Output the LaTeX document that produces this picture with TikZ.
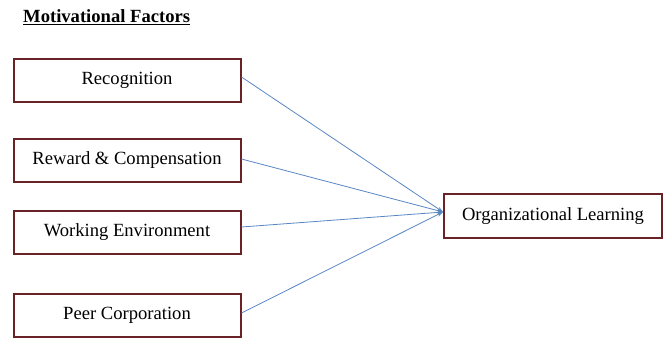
\documentclass[tikz,border=0pt]{standalone}
\usepackage{fontspec}
\setmainfont{Liberation Serif}
\usetikzlibrary{arrows.meta}
\definecolor{boxred}{RGB}{105,35,38}
\definecolor{lineblue}{RGB}{90,135,195}
\begin{document}
\begin{tikzpicture}[x=1pt,y=-1pt,
  factor/.style={draw=boxred,line width=2pt,fill=white,minimum width=227pt,minimum height=43pt,inner sep=0pt,font=\fontsize{18.6}{21}\selectfont},
  link/.style={draw=lineblue,line width=0.8pt,-{Stealth[length=6pt,width=4pt]}}]
\useasboundingbox (0,0) rectangle (663,337);
\fill[white] (0,0) rectangle (663,337);
\node[anchor=base west,inner sep=0pt,font=\fontsize{18.6}{21}\selectfont] (title) at (23,23) {\underline{\textbf{Motivational Factors}}};
\node[factor] (rec) at (127,80) {Recognition};
\node[factor] (rew) at (127,160.5) {Reward \& Compensation};
\node[factor] (work) at (127,232) {Working Environment};
\node[factor,minimum height=43pt] (peer) at (127,315) {Peer Corporation};
\node[factor,minimum width=218pt,minimum height=44pt] (org) at (553,216) {Organizational Learning};
\coordinate (tip) at ([yshift=4pt]org.west);
\draw[link] ([yshift=3pt]rec.east) -- (tip);
\draw[link] ([yshift=1.5pt]rew.east) -- (tip);
\draw[link] ([yshift=5pt]work.east) -- (tip);
\draw[link] ([yshift=2pt]peer.east) -- (tip);
\end{tikzpicture}
\end{document}
